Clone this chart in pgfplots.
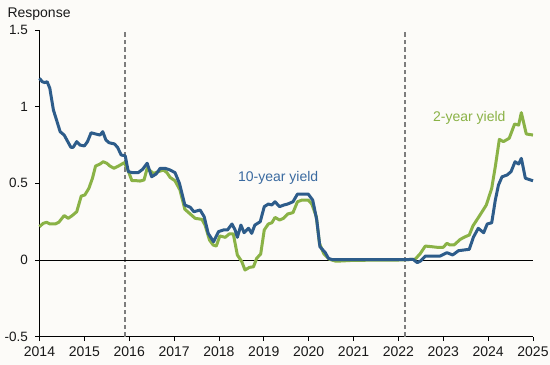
\documentclass[border=0pt]{standalone}
\usepackage{fontspec}
\setmainfont{Liberation Sans}
\usepackage{pgfplots}
\pgfplotsset{compat=1.18}
\usetikzlibrary{backgrounds}
\definecolor{bg}{RGB}{252,251,248}
\definecolor{tenblue}{RGB}{45,92,138}
\definecolor{tenlabel}{RGB}{58,106,160}
\definecolor{twogreen}{RGB}{138,178,70}
\definecolor{dashgray}{RGB}{125,125,125}

\pgfplotstableread{
x y
2014.00 1.185
2014.06 1.163
2014.12 1.157
2014.17 1.163
2014.23 1.120
2014.31 0.978
2014.38 0.913
2014.46 0.837
2014.55 0.815
2014.63 0.772
2014.70 0.735
2014.75 0.735
2014.83 0.772
2014.90 0.750
2015.00 0.744
2015.07 0.772
2015.15 0.830
2015.25 0.822
2015.35 0.815
2015.41 0.837
2015.48 0.783
2015.55 0.765
2015.67 0.757
2015.74 0.735
2015.82 0.685
2015.91 0.680
2015.98 0.576
2016.07 0.570
2016.20 0.570
2016.30 0.592
2016.40 0.631
2016.50 0.543
2016.60 0.561
2016.69 0.598
2016.80 0.598
2016.91 0.587
2017.02 0.570
2017.12 0.500
2017.24 0.359
2017.36 0.344
2017.44 0.315
2017.58 0.326
2017.67 0.283
2017.76 0.174
2017.88 0.119
2017.99 0.185
2018.10 0.196
2018.19 0.196
2018.29 0.235
2018.36 0.196
2018.41 0.148
2018.49 0.228
2018.56 0.178
2018.66 0.207
2018.73 0.174
2018.80 0.228
2018.92 0.250
2019.01 0.348
2019.10 0.365
2019.18 0.359
2019.25 0.380
2019.35 0.348
2019.45 0.359
2019.53 0.365
2019.65 0.380
2019.75 0.430
2019.87 0.430
2019.99 0.430
2020.09 0.391
2020.18 0.261
2020.25 0.087
2020.37 0.048
2020.44 0.011
2020.52 0.003
2021.00 0.002
2021.50 0.002
2022.00 0.002
2022.33 0.004
2022.42 -0.017
2022.50 -0.005
2022.60 0.026
2022.74 0.026
2022.93 0.026
2023.08 0.048
2023.21 0.033
2023.34 0.061
2023.45 0.065
2023.58 0.070
2023.67 0.148
2023.78 0.207
2023.90 0.178
2023.98 0.235
2024.08 0.243
2024.16 0.391
2024.23 0.489
2024.31 0.543
2024.42 0.554
2024.51 0.576
2024.60 0.641
2024.68 0.626
2024.74 0.663
2024.83 0.533
2025.00 0.517
}\tenyear

\pgfplotstableread{
x y
2014.00 0.217
2014.08 0.239
2014.16 0.246
2014.23 0.235
2014.35 0.235
2014.43 0.246
2014.55 0.290
2014.64 0.272
2014.73 0.290
2014.83 0.315
2014.93 0.417
2015.01 0.424
2015.10 0.467
2015.18 0.533
2015.25 0.613
2015.35 0.626
2015.42 0.641
2015.50 0.631
2015.57 0.613
2015.66 0.598
2015.76 0.613
2015.89 0.635
2015.98 0.580
2016.06 0.517
2016.17 0.517
2016.24 0.515
2016.33 0.522
2016.40 0.598
2016.54 0.565
2016.65 0.576
2016.76 0.587
2016.84 0.570
2016.91 0.539
2017.02 0.517
2017.13 0.457
2017.24 0.331
2017.36 0.300
2017.47 0.272
2017.62 0.265
2017.69 0.228
2017.79 0.130
2017.87 0.098
2017.94 0.091
2018.02 0.157
2018.14 0.148
2018.23 0.170
2018.32 0.170
2018.41 0.033
2018.51 -0.011
2018.58 -0.065
2018.68 -0.048
2018.77 -0.044
2018.84 0.011
2018.93 0.039
2019.01 0.196
2019.10 0.235
2019.18 0.243
2019.25 0.278
2019.35 0.261
2019.44 0.272
2019.53 0.300
2019.65 0.309
2019.75 0.380
2019.85 0.391
2019.99 0.391
2020.07 0.365
2020.17 0.283
2020.24 0.109
2020.34 0.039
2020.46 0.005
2020.61 -0.008
2021.00 -0.002
2021.50 -0.001
2022.00 0.000
2022.37 0.005
2022.48 0.039
2022.60 0.091
2022.74 0.087
2022.86 0.083
2023.00 0.083
2023.08 0.109
2023.15 0.098
2023.24 0.098
2023.38 0.135
2023.49 0.152
2023.58 0.163
2023.66 0.222
2023.82 0.294
2023.96 0.359
2024.08 0.468
2024.16 0.609
2024.25 0.787
2024.34 0.772
2024.47 0.794
2024.59 0.887
2024.68 0.880
2024.74 0.961
2024.85 0.822
2025.00 0.815
}\twoyear

\begin{document}
\begin{tikzpicture}
\begin{axis}[
  scale only axis,
  width=493.5bp, height=306.7bp,
  xmin=2014, xmax=2025, ymin=-0.5, ymax=1.5,
  axis x line=bottom, axis y line=left,
  axis line style={-, black, line width=0.8bp},
  xtick={2014,2015,2016,2017,2018,2019,2020,2021,2022,2023,2024,2025},
  xticklabels={2014,2015,2016,2017,2018,2019,2020,2021,2022,2023,2024,2025},
  ytick={-0.5,0,0.5,1,1.5},
  yticklabels={-0.5,0,0.5,1,1.5},
  tick align=outside,
  major tick length=4.5bp,
  tick style={black, line width=0.8bp},
  xticklabel style={font=\fontsize{14bp}{16bp}\selectfont, text=black!90, yshift=-2.5bp},
  yticklabel style={font=\fontsize{13.5bp}{15bp}\selectfont, text=black!90, xshift=-3.5bp},
  clip=false,
]
\draw[dashgray, line width=1.6bp, dash pattern=on 4.5bp off 3bp] (axis cs:2015.91,-0.5) -- (axis cs:2015.91,1.5);
\draw[dashgray, line width=1.6bp, dash pattern=on 4.5bp off 3bp] (axis cs:2022.15,-0.5) -- (axis cs:2022.15,1.5);
\draw[black, line width=0.9bp] (axis cs:2014,0) -- (axis cs:2025,0);
\addplot[twogreen, line width=3bp, line join=round] table[x=x,y=y] {\twoyear};
\addplot[tenblue, line width=3bp, line join=round] table[x=x,y=y] {\tenyear};
\node[tenlabel, font=\fontsize{14bp}{16bp}\selectfont] at (axis cs:2019.32,0.535) {10-year yield};
\node[twogreen, font=\fontsize{14bp}{16bp}\selectfont] at (axis cs:2023.58,0.93) {2-year yield};
\end{axis}
\node[anchor=base west, font=\fontsize{14bp}{16bp}\selectfont, text=black!90] at ([shift={(-35.5bp,12.7bp)}]current axis.north west) {Response};
\pgfresetboundingbox
\path ([shift={(-39.5bp,-28.3bp)}]current axis.south west) rectangle ([shift={(17bp,30bp)}]current axis.north east);
\begin{scope}[on background layer]
\fill[bg] ([shift={(-39.5bp,-28.3bp)}]current axis.south west) rectangle ([shift={(17bp,30bp)}]current axis.north east);
\end{scope}
\end{tikzpicture}
\end{document}
